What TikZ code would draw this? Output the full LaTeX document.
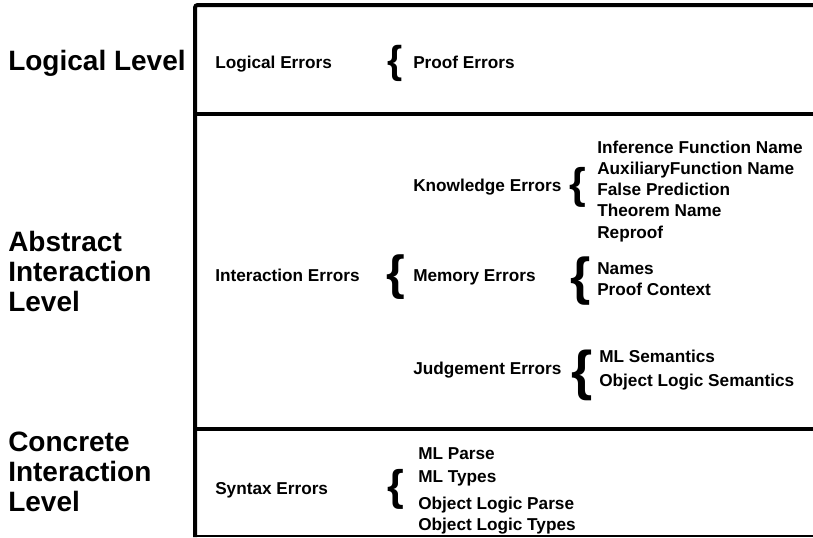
\documentclass[tikz,border=0pt]{standalone}
\usepackage{fontspec}
\setmainfont{Liberation Sans}
\newcommand{\Brc}[1]{{\fontsize{#1}{#1}\selectfont\{}}

\begin{document}
\begin{tikzpicture}[x=0.75pt,y=-0.75pt,
  lvl/.style={anchor=base west,inner sep=0pt,font=\fontsize{21}{22.5}\selectfont\bfseries},
  err/.style={anchor=base west,inner sep=0pt,font=\fontsize{12.9}{15}\selectfont\bfseries},
  brc/.style={anchor=base west,inner sep=0pt,font=\bfseries}]

  \useasboundingbox (0,0) rectangle (813,537);

  % frame
  \draw[line width=3pt,rounded corners=2pt] (813,5) -- (195,5) -- (195,537);
  \draw[line width=3pt] (195,114) -- (813,114); % logical / abstract
  \draw[line width=3pt] (195,429) -- (813,429); % abstract / concrete
  \draw[line width=0.8pt] (195,536) -- (813,536);

  % levels
  \node[lvl] (logl) at (8,70) {Logical Level};
  \node[lvl] (abs1) at (8,251) {Abstract};
  \node[lvl] (abs2) at (8,281) {Interaction};
  \node[lvl] (abs3) at (8,311) {Level};
  \node[lvl] (con1) at (8,451) {Concrete};
  \node[lvl] (con2) at (8,481) {Interaction};
  \node[lvl] (con3) at (8,511) {Level};

  % logical level
  \node[err] (logerr) at (215,68) {Logical Errors};
  \node[brc] (b1) at (387,73.7) {\Brc{29.2}};
  \node[err] (proof) at (413,68) {Proof Errors};

  % abstract interaction level
  \node[err] (interr) at (215,281) {Interaction Errors};
  \node[brc] (b2) at (386,289.7) {\Brc{36}};
  \node[err] (know) at (413,191) {Knowledge Errors};
  \node[err] (mem) at (413,281) {Memory Errors};
  \node[err] (judge) at (413,374) {Judgement Errors};

  \node[brc] (b3) at (569,198.3) {\Brc{32.2}};
  \node[err] (k1) at (597,153) {Inference Function Name};
  \node[err] (k2) at (597,174) {AuxiliaryFunction Name};
  \node[err] (k3) at (597,195) {False Prediction};
  \node[err] (k4) at (597,216) {Theorem Name};
  \node[err] (k5) at (597,238) {Reproof};

  \node[brc] (b4) at (570,294.3) {\Brc{39}};
  \node[err] (m1) at (597,274) {Names};
  \node[err] (m2) at (597,295) {Proof Context};

  \node[brc] (b5) at (571,389) {\Brc{40.9}};
  \node[err] (j1) at (599,362) {ML Semantics};
  \node[err] (j2) at (599,386) {Object Logic Semantics};

  % concrete interaction level
  \node[err] (syn) at (215,494) {Syntax Errors};
  \node[brc] (b6) at (387,500.3) {\Brc{32.2}};
  \node[err] (s1) at (418,459) {ML Parse};
  \node[err] (s2) at (418,482) {ML Types};
  \node[err] (s3) at (418,509) {Object Logic Parse};
  \node[err] (s4) at (418,530) {Object Logic Types};
\end{tikzpicture}
\end{document}
